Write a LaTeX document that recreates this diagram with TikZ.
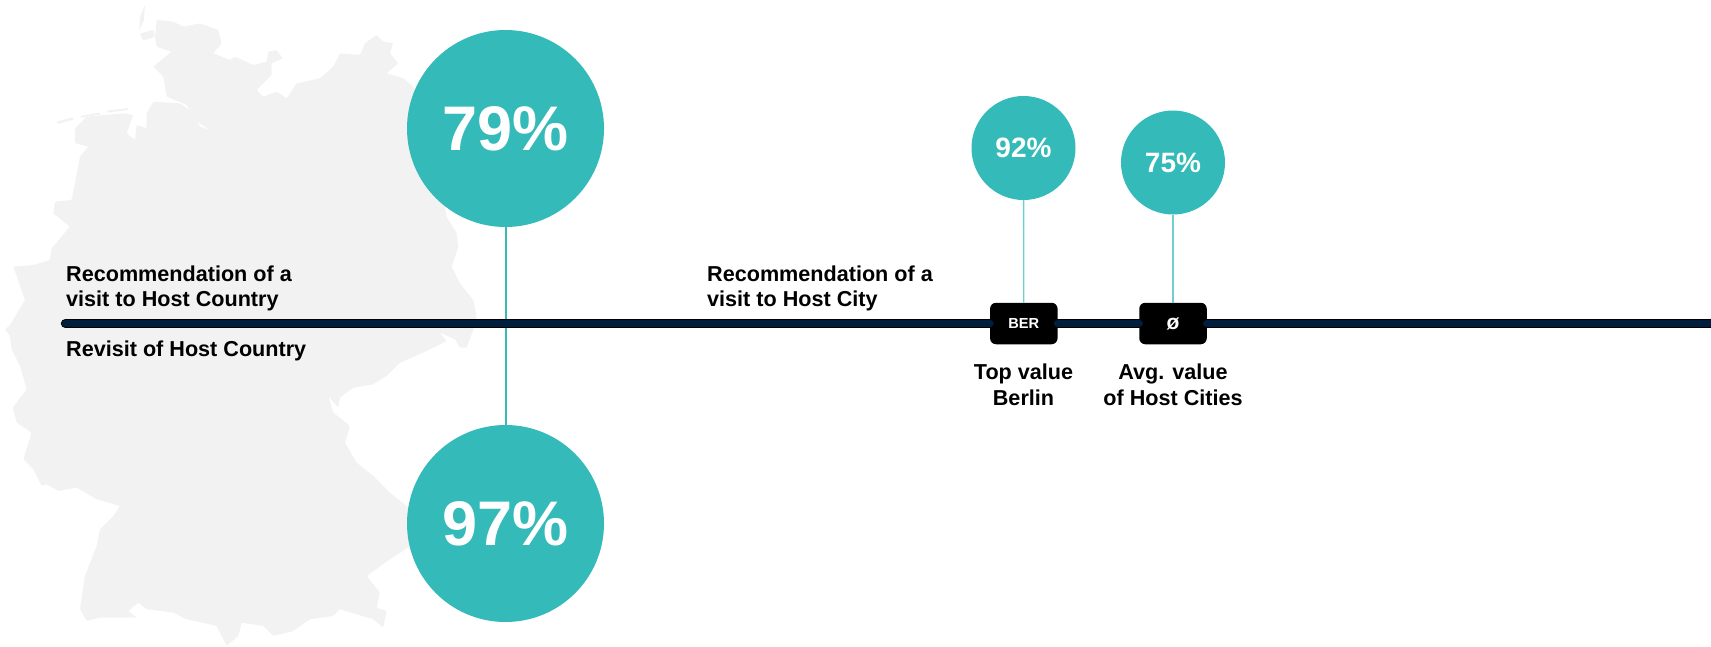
\documentclass[tikz,border=0pt]{standalone}
\usepackage{fontspec}
\setmainfont{Liberation Sans}
\definecolor{tealc}{HTML}{33BAB9}
\definecolor{mapc}{HTML}{F2F2F2}
\definecolor{navyc}{HTML}{001F3F}
\newcommand{\fs}[2]{\fontsize{#1}{#2}\selectfont}
\newcommand{\dn}[1]{\raisebox{-1.2pt}{#1}}
\tikzset{
 x=1pt,y=-1pt,
 bubble/.style={circle,fill=tealc,inner sep=0pt,text=white},
 lbl/.style={inner sep=0pt,font=\fs{21.6}{25.6}\bfseries,text=black,align=left},
 lblc/.style={lbl,align=center},
 tag/.style={rounded corners=6pt,fill=black,text=white,inner sep=0pt,minimum width=67.5pt,minimum height=41.5pt,font=\fs{14.6}{16}\bfseries},
 link/.style={draw=tealc,line width=2pt},
 thin link/.style={draw=tealc!70,line width=1.3pt},
 axis/.style={draw=black,line width=0.9pt,double=navyc,double distance=7.6pt,line cap=round},
 land/.style={fill=mapc,draw=none,rounded corners=1pt},
}
\begin{document}
\begin{tikzpicture}
\useasboundingbox (0,0) rectangle (1711,646);
% map, traced in 3x zoom coordinates
\begin{scope}[x=0.3333pt,y=-0.3333pt]
\fill[land] (470,60)--(520,65)--(550,80)--(600,70)--(655,90)--(665,130)--(640,160)--(690,180)--(705,170)--(760,195)--(800,185)--(805,155)--(830,150)--(848,175)--(815,190)--(815,225)--(790,250)--(770,270)--(790,290)--(830,275)--(860,295)--(890,250)--(960,235)--(1000,200)--(1020,160)--(1080,165)--(1095,130)--(1130,105)--(1150,125)--(1180,130)--(1170,160)--(1195,190)--(1160,220)--(1210,235)--(1240,260)--(1300,400)--(1340,650)--(1370,700)--(1375,740)--(1355,800)--(1380,850)--(1420,900)--(1430,950)--(1420,990)
--(1400,1043)--(1380,1043)--(1365,1018)--(1320,998)--(1340,1023)--(1270,1058)--(1200,1088)--(1160,1128)--(1120,1153)--(1060,1163)--(1020,1193)--(1015,1223)--(985,1188)--(1000,1238)--(1050,1278)--(1035,1328)--(1070,1388)--(1120,1428)--(1170,1478)--(1220,1518)--(1300,1600)--(1215,1648)--(1170,1678)--(1100,1728)--(1140,1778)--(1130,1823)--(1160,1833)--(1150,1883)--(1120,1858)--(1020,1828)--(1000,1848)--(930,1858)--(880,1893)--(820,1908)--(790,1878)--(725,1868)--(715,1908)--(680,1938)--(650,1878)--(560,1858)--(520,1838)--(440,1828)--(415,1808)--(385,1833)--(410,1853)--(300,1853)--(260,1863)--(240,1828)--(255,1728)--(290,1638)--(300,1588)--(340,1548)--(360,1518)--(290,1498)--(230,1463)--(175,1473)--(140,1453)--(125,1458)--(100,1408)--(70,1378)--(95,1298)--(50,1268)--(38,1223)--(80,1168)--(60,1098)--(35,1048)--(30,1008)--(15,988)--(50,958)
--(30,975)--(75,900)--(40,800)--(100,795)--(150,780)--(155,745)--(210,680)--(160,640)--(165,605)--(215,600)--(240,470)--(265,440)--(225,430)--(225,385)--(260,350)--(370,340)--(400,345)--(380,400)--(405,420)--(410,375)--(440,385)--(440,340)--(460,305)--(540,310)--(570,330)--(600,380)--(630,390)--(590,365)--(560,315)--(500,290)--(490,230)--(460,200)--(515,155)--(470,140)--(465,110)--cycle;
\fill[land] (435,15)--(420,50)--(418,90)--(432,60)--cycle;
\fill[land] (420,100)--(460,90)--(465,110)--(430,122)--cycle;
\fill[land] (170,365)--(220,352)--(222,358)--(175,372)--cycle;
\fill[land] (240,348)--(300,338)--(302,343)--(242,354)--cycle;
\fill[land] (320,332)--(385,324)--(387,330)--(322,338)--cycle;
\end{scope}
% bubbles
\node[bubble,minimum size=197pt,font=\fs{63}{70}\bfseries] (c79) at (505.5,128.5) {\dn{79\%}};
\node[bubble,minimum size=197pt,font=\fs{63}{70}\bfseries] (c97) at (505.5,523.5) {\dn{97\%}};
\node[bubble,minimum size=104pt,font=\fs{28}{30}\bfseries] (c92) at (1023.5,148) {\dn{92\%}};
\node[bubble,minimum size=104pt,font=\fs{28}{30}\bfseries] (c75) at (1173,162.5) {\dn{75\%}};
% tags
\node[tag] (ber) at (1023.8,323.5) {BER};
\node[tag] (avg) at (1173,323.5) {\fontsize{21}{22}\selectfont ø};
\coordinate (ls) at (65.5,323.5);
\coordinate (le) at (1716,323.5);
% connectors
\draw[link] (c79) -- (c97);
\draw[thin link] (c92) -- (ber);
\draw[thin link] (c75) -- (avg);
\draw[axis] (ls) -- (ber.west);
\draw[axis] (ber.east) -- (avg.west);
\draw[axis] (avg.east) -- (le);
% labels
\node[lbl,anchor=west] (a) at (66,288.5) {Recommendation of a\\ visit to Host Country};
\node[lbl,anchor=base west] (b) at (66,356.7) {Revisit of Host Country};
\node[lbl,anchor=west] (d) at (707,288.5) {Recommendation of a\\ visit to Host City};
\node[lblc] (e) at (1023.5,384.5) {Top value\\ Berlin};
\node[lblc] (f) at (1173,384.5) {Avg. value\\ of Host Cities};
\end{tikzpicture}
\end{document}
